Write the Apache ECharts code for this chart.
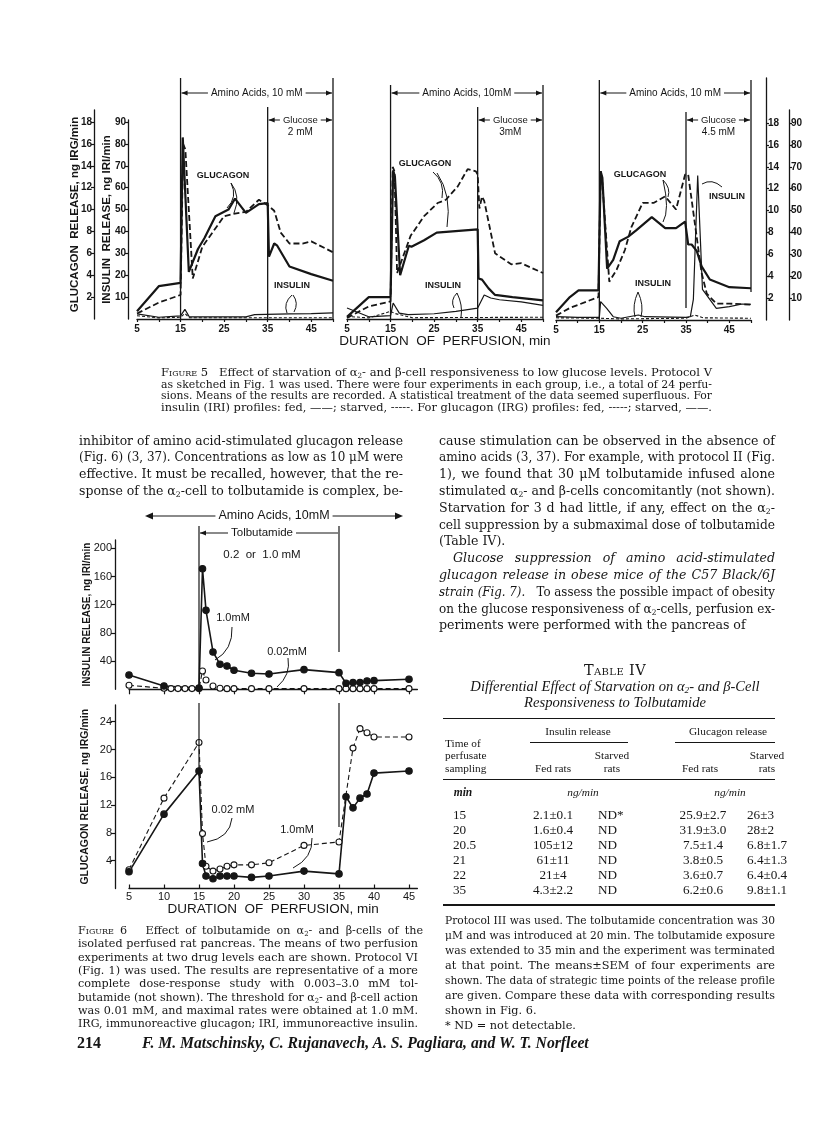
<!DOCTYPE html>
<html><head><meta charset="utf-8">
<script src="https://cdn.jsdelivr.net/npm/echarts@6/dist/echarts.min.js"></script>
<style>
html,body{margin:0;padding:0;background:#fff;}
#page{position:relative;width:816px;height:1127px;overflow:hidden;background:#fff;}
#chart{position:absolute;left:0;top:0;width:816px;height:1127px;}
.t{position:absolute;white-space:nowrap;color:#161616;font-family:'DejaVu Serif','Liberation Serif',serif;}
.t span{white-space:nowrap;}
.lib{font-family:'Liberation Serif','DejaVu Serif',serif;}
.sc{font-variant:small-caps;}
.r{position:absolute;background:#161616;}
sub{font-size:0.62em;vertical-align:-0.25em;line-height:0;}
</style></head><body><div id="page"><div id="chart"></div><div id="txt"></div></div>
<script>
// ================= DATA =================
// Figure 5 – [minute, value]; glucagon in ng IRG/min, insulin in ng IRI/min
const p1GlucFed = [[5,0.5],[10,1.5],[15,2.2],[15.6,16.0],[16.1,15.5],[17.8,3.7],[20,6.6],[25,9.4],[27,9.6],[30,9.8],[33,10.9],[35,10.4],[36.5,9.9],[38,7.9],[40,6.9],[43,6.9],[45,7.1],[50,6.1]];
const p1GlucStarved = [[5,0.7],[10,3.0],[15,3.3],[15.5,16.6],[15.9,16.6],[16.9,4.3],[19,6.4],[20.5,7.4],[23,9.4],[26,10.0],[27.5,11.0],[30,9.7],[33,10.5],[35,10.6],[35.3,5.7],[36.5,6.9],[37.2,6.7],[40,4.8],[45,4.1],[50,3.5]];
const p1InsFed = [[5,2.3],[10,0.8],[15,1.4],[16,4.4],[17,1.0],[25,1.0],[30,1.0],[32,2.0],[40,2.3],[45,2.5],[50,2.8]];
const p1InsStarved = [[5,1.5],[10,0.5],[15,0.8],[16,2.5],[17,0.6],[50,0.6]];

const p2GlucFed = [[5,0.1],[10,1.15],[15,1.6],[15.5,13.9],[15.9,13.5],[16.5,4.2],[19.6,7.6],[22.7,9.4],[25.8,10.6],[27.7,10.9],[30.4,12.1],[32.7,13.7],[34.6,13.5],[35,13.2],[35.4,10.1],[36,11.2],[36.5,10.8],[39,6.0],[42.7,5.0],[45,5.1],[50,4.2]];
const p2GlucStarved = [[5,0.2],[10,2.0],[15,2.0],[15.6,13.6],[16,13.0],[17.2,4.0],[19.2,6.7],[19.8,6.6],[22.7,7.2],[25.6,7.9],[35,8.2],[35.2,3.7],[36,3.6],[37.5,2.8],[39,2.2],[43,2.0],[50,1.7]];
const p2InsFed = [[5,5],[10,1],[15,1.5],[15.6,7.3],[17,2.7],[19,2],[25,2.4],[30,3.5],[35,5],[36.5,11],[38,9.6],[40,8.8],[45,7.8],[50,6.2]];
const p2InsStarved = [[5,1.2],[10,0.5],[15,3.5],[16,2.5],[20,0.6],[50,0.8]];

const p3GlucFed = [[5,0.4],[8.2,1.1],[14.8,2.1],[15.3,13.6],[15.7,12.5],[17.3,3.5],[19,4.6],[20.9,6.4],[22.4,8.5],[25,10.7],[27.5,10.7],[30.2,11.3],[32.7,10.1],[34.8,13.3],[35.5,13.3],[36.5,10.4],[38.6,4.3],[39.8,2.4],[42,1.5],[45,1.5],[50,1.4]];
const p3GlucStarved = [[5,0.7],[8.2,2.1],[10.2,2.7],[14.8,2.7],[15.3,13.6],[15.7,13.0],[16.8,4.7],[18.2,5.5],[19.7,7.2],[21.6,7.6],[23.5,8.2],[27.1,9.4],[30.2,8.4],[32.7,8.4],[34.8,9.0],[35.5,6.9],[36.3,6.9],[37.5,6.3],[38.6,4.9],[40.5,3.7],[45,3.0],[50,2.9]];
const p3InsFed = [[5,1.5],[10,1.2],[15,1.2],[15.3,8.4],[16.7,5.3],[18.2,1.5],[20,0.8],[24,2.3],[25.5,1.5],[35,1.2],[36,1.5],[36.7,9.4],[37.7,66],[38.8,14],[42,5.3],[45,6.1],[48,7.3],[50,7.2]];
const p3InsStarved = [[5,1.0],[15,0.8],[20,0.5],[35,0.8],[37,2.3],[39,1.0],[50,0.8]];

const fig5XLabels = [5,15,25,35,45];
const fig5GlucTicks = [2,4,6,8,10,12,14,16,18];
const fig5InsTicks = [10,20,30,40,50,60,70,80,90];

// Figure 6
const f6Times10 = [5,10,15,15.5,16,17,18,19,20,22.5,25,30,35,36,37,38,39,40,45];
const f6Ins10 = [20.3,4.7,1.9,171,112,53,35.5,33,27,22.7,21.7,27.9,23.6,8.5,9.5,9.5,11.8,12.3,14.2];
const f6TimesIns002 = [5,10,11,12,13,14,15,15.5,16,17,18,19,20,22.5,25,30,35,36,37,38,39,40,45];
const f6Ins002 = [5.7,1.4,1,1,1,1,1,26,13.2,4.7,1.4,0.9,0.9,0.9,0.9,0.9,0.9,0.9,0.9,0.9,0.9,0.9,0.9];
const f6Gluc10 = [2.4,10.7,16.9,3.6,1.8,1.4,1.8,1.8,1.8,1.6,1.8,2.5,2.1,13.2,11.6,13.0,13.6,16.6,16.9];
const f6TimesGluc002 = [5,10,15,15.5,16,17,18,19,20,22.5,25,30,35,37,38,39,40,45];
const f6Gluc002 = [2.7,13.0,21.0,7.9,3.2,2.5,2.8,3.2,3.4,3.4,3.7,6.2,6.7,20.2,23.0,22.4,21.8,21.8];
const fig6XTicks = [5,10,15,20,25,30,35,40,45];
const fig6InsTicks = [40,80,120,160,200];
const fig6GlucTicks = [4,8,12,16,20,24];

// Table IV
const tableTimes = ['15','20','20.5','21','22','35'];
const tableInsFed = ['2.1±0.1','1.6±0.4','105±12','61±11','21±4','4.3±2.2'];
const tableInsStarved = ['ND*','ND','ND','ND','ND','ND'];
const tableGlucFed = ['25.9±2.7','31.9±3.0','7.5±1.4','3.8±0.5','3.6±0.7','6.2±0.6'];
const tableGlucStarved = ['26±3','28±2','6.8±1.7','6.4±1.3','6.4±0.4','9.8±1.1'];

// ================= CHART =================
const INK = '#161616';
const SANS = "'Liberation Sans','DejaVu Sans',Arial,sans-serif";
const chart = echarts.init(document.getElementById('chart'), null, {renderer:'canvas', width:816, height:1127});

const gridBoxes = [
  {left:137, top:110, width:196, height:209},
  {left:137, top:120, width:196, height:199},
  {left:347, top:110, width:196, height:209},
  {left:347, top:120, width:196, height:199},
  {left:556, top:78,  width:195, height:242},
  {left:556, top:110, width:195, height:210},
  {left:129, top:540, width:288.4, height:149.3},
  {left:129, top:705, width:288.4, height:183.5}
];
const grid = gridBoxes.map(g => Object.assign({outerBoundsMode:'none', containLabel:false, show:false}, g));
const GLUC_PX = 10.94, INS_PX = 2.189; // px per unit in figure 5

const axLine = {show:true, onZero:false, lineStyle:{color:INK, width:1.3}};
function hiddenX(gi){ return {type:'value', gridIndex:gi, min:5, max:50, show:false}; }
function fig5X(gi){
  return {type:'value', gridIndex:gi, min:5, max:50, interval:5, axisLine:axLine,
    axisTick:{show:true, length:3, lineStyle:{color:INK, width:1.2}},
    axisLabel:{show:true, customValues:fig5XLabels, fontSize:10, fontWeight:'bold', color:INK, margin:5, fontFamily:SANS},
    splitLine:{show:false}};
}
function fig5Y(gi, max, ticks, pos, offset, name, gap, show){
  const o = {type:'value', gridIndex:gi, min:0, max:max, position:pos, offset:offset, show:show,
    axisLine:axLine, axisTick:{show:true, customValues:ticks, length:3, lineStyle:{color:INK, width:1.2}},
    axisLabel:{show:true, customValues:ticks, fontSize:10, fontWeight:'bold', color:INK, margin:2, fontFamily:SANS},
    splitLine:{show:false}, nameMoveOverlap:false};
  if (name){ Object.assign(o, {name:name, nameLocation:'middle', nameGap:gap,
    nameTextStyle:{fontSize:11.5, fontWeight:'bold', color:INK, fontFamily:SANS}}); }
  return o;
}
const xAxis = [
  hiddenX(0), fig5X(1), hiddenX(2), fig5X(3), hiddenX(4), fig5X(5),
  {type:'value', gridIndex:6, min:5, max:46.2, axisLine:axLine,
    axisTick:{show:true, customValues:fig6XTicks, length:5, lineStyle:{color:INK, width:1.2}},
    axisLabel:{show:false}, splitLine:{show:false}},
  {type:'value', gridIndex:7, min:5, max:46.2, axisLine:axLine,
    axisTick:{show:true, inside:true, customValues:fig6XTicks, length:4, lineStyle:{color:INK, width:1.2}},
    axisLabel:{show:true, customValues:fig6XTicks, fontSize:11, color:INK, margin:3, fontFamily:SANS},
    splitLine:{show:false}, name:'DURATION  OF  PERFUSION, min', nameLocation:'middle', nameGap:14, nameMoveOverlap:false,
    nameTextStyle:{fontSize:13.5, color:INK, fontFamily:SANS}}
];
const yAxis = [
  fig5Y(0, 209/GLUC_PX, fig5GlucTicks, 'left', 43, 'GLUCAGON  RELEASE, ng IRG/min', 13, true),
  fig5Y(1, 199/INS_PX, fig5InsTicks, 'left', 9, 'INSULIN  RELEASE, ng IRI/min', 15, true),
  fig5Y(2, 209/GLUC_PX, fig5GlucTicks, 'left', 0, null, 0, false),
  fig5Y(3, 199/INS_PX, fig5InsTicks, 'left', 0, null, 0, false),
  fig5Y(4, 242/GLUC_PX, fig5GlucTicks, 'right', 15, null, 0, true),
  fig5Y(5, 210/INS_PX, fig5InsTicks, 'right', 38, null, 0, true),
  {type:'value', gridIndex:6, min:0, max:211.8, offset:14, axisLine:axLine,
    axisTick:{show:true, customValues:fig6InsTicks, length:4, lineStyle:{color:INK, width:1.2}},
    axisLabel:{show:true, customValues:fig6InsTicks, fontSize:11, color:INK, margin:3, fontFamily:SANS},
    splitLine:{show:false}, name:'INSULIN RELEASE, ng IRI/min', nameLocation:'middle', nameGap:23, nameMoveOverlap:false,
    nameTextStyle:{fontSize:10, fontWeight:'bold', color:INK, fontFamily:SANS}},
  {type:'value', gridIndex:7, min:0, max:26.4, offset:14, axisLine:axLine,
    axisTick:{show:true, customValues:fig6GlucTicks, length:4, lineStyle:{color:INK, width:1.2}},
    axisLabel:{show:true, customValues:fig6GlucTicks, fontSize:11, color:INK, margin:3, fontFamily:SANS},
    splitLine:{show:false}, name:'GLUCAGON RELEASE, ng IRG/min', nameLocation:'middle', nameGap:24, nameMoveOverlap:false,
    nameTextStyle:{fontSize:10.5, fontWeight:'bold', color:INK, fontFamily:SANS}}
];

function l5(data, ax, width, dash){
  return {type:'line', xAxisIndex:ax, yAxisIndex:ax, data:data, symbol:'none', showSymbol:false, silent:true,
    lineStyle:{color:INK, width:width, type:dash ? dash : 'solid'}, z:3};
}
function pairs(t, v){ return t.map((x,i)=>[x, v[i]]); }
function l6(t, v, ax, filled){
  return {type:'line', xAxisIndex:ax, yAxisIndex:ax, data:pairs(t,v), symbol:'circle', symbolSize:filled?6.5:6, silent:true,
    itemStyle:{color: filled?INK:'#fff', borderColor:INK, borderWidth:1.1},
    lineStyle:{color:INK, width: filled?1.6:1.1, type: filled?'solid':[5,3]}, z:4};
}
const series = [
  l5(p1GlucFed,0,1.8,[6,3]), l5(p1GlucStarved,0,2.2), l5(p1InsFed,1,1.2), l5(p1InsStarved,1,1.1,[3,2]),
  l5(p2GlucFed,2,1.8,[6,3]), l5(p2GlucStarved,2,2.2), l5(p2InsFed,3,1.2), l5(p2InsStarved,3,1.1,[3,2]),
  l5(p3GlucFed,4,1.8,[6,3]), l5(p3GlucStarved,4,2.2), l5(p3InsFed,5,1.2), l5(p3InsStarved,5,1.1,[3,2]),
  l6(f6TimesIns002, f6Ins002, 6, false), l6(f6Times10, f6Ins10, 6, true),
  l6(f6TimesGluc002, f6Gluc002, 7, false), l6(f6Times10, f6Gluc10, 7, true)
];
chart.setOption({animation:false, backgroundColor:'transparent', grid:grid, xAxis:xAxis, yAxis:yAxis, series:series});

// ---------- annotations (positions from the axes) ----------
const P = (ax, x, y) => chart.convertToPixel({xAxisIndex:ax, yAxisIndex:ax}, [x, y]);
const G = [];
function gl(x1,y1,x2,y2,w,dash){ G.push({type:'line', silent:true, z:10, shape:{x1,y1,x2,y2}, style:{stroke:INK, lineWidth:w||1.2, lineDash:dash||null}}); }
function gt(x,y,text,font,bg){ G.push({type:'text', silent:true, z:12, x:x, y:y, style:{text:text, font:font, fill:INK,
  align:'center', verticalAlign:'middle', textAlign:'center', textVerticalAlign:'middle',
  backgroundColor: bg ? '#fff' : null, padding: bg ? [0,3] : 0}}); }
function tri(x,y,dir,len,half){ G.push({type:'polygon', silent:true, z:11, shape:{points:[[x,y],[x-dir*len,y-half],[x-dir*len,y+half]]}, style:{fill:INK}}); }
function qc(x1,y1,cx,cy,x2,y2){ G.push({type:'bezierCurve', silent:true, z:10, shape:{x1,y1,x2,y2,cpx1:cx,cpy1:cy}, style:{stroke:INK, fill:null, lineWidth:1}}); }

const fig5Panels = [
  {ax:1, lineTop:78, glucTop:107, glucBottom:null, rightBottom:null, amino:'Amino Acids, 10 mM', conc:'2 mM'},
  {ax:3, lineTop:85, glucTop:107, glucBottom:null, rightBottom:null, amino:'Amino Acids, 10mM', conc:'3mM'},
  {ax:5, lineTop:80, glucTop:112, glucBottom:308, rightBottom:292, amino:'Amino Acids, 10 mM', conc:'4.5 mM'}
];
const F5 = "10px " + SANS;
fig5Panels.forEach(p => {
  const x15 = P(p.ax,15,0)[0], x35 = P(p.ax,35,0)[0], x50 = P(p.ax,50,0)[0], base = P(p.ax,15,0)[1];
  gl(x15, p.lineTop, x15, base, 1.3);
  gl(x50, p.lineTop, x50, p.rightBottom || base, 1.3);
  gl(x35, p.glucTop, x35, p.glucBottom || base, 1.3);
  gl(x15+1, 93, x50-1, 93, 1.1); tri(x15+1, 93, -1, 6, 2.5); tri(x50-1, 93, 1, 6, 2.5);
  gt((x15+x50)/2, 93, p.amino, F5, true);
  gl(x35+1, 120, x50-1, 120, 1.1); tri(x35+1,120,-1,6,2.5); tri(x50-1,120,1,6,2.5);
  gt((x35+x50)/2, 120, 'Glucose', "9.5px " + SANS, true);
  gt((x35+x50)/2, 132, p.conc, "10px " + SANS, false);
});
const fig5Tags = [['GLUCAGON',223,176],['INSULIN',292,286],['GLUCAGON',425,164],['INSULIN',443,286],['GLUCAGON',640,175],['INSULIN',653,284],['INSULIN',727,197]];
fig5Tags.forEach(t => gt(t[1], t[2], t[0], "bold 9px " + SANS, false));
[[231,183,238,197,227,208],[231,183,241,196,234,213],
 [292,295,283,303,287,313],[293,295,299,303,294,312],
 [433,172,445,182,442,198],[437,173,452,195,447,227],
 [457,293,450,300,454,308],[457,293,463,305,461,317],
 [663,180,671,188,668,197],[663,180,670,210,663,222],
 [638,292,632,305,635,317],[638,292,644,305,641,317],
 [722,187,712,178,702,184]].forEach(c => qc(...c));
gt(445, 341, 'DURATION  OF  PERFUSION, min', "13.5px " + SANS, false);

// Figure 6 annotations
const f15 = P(6,15,0)[0], f35 = P(6,35,0)[0], baseA = P(6,15,0)[1];
gl(f15, 526, f15, baseA, 1.2); gl(f35, 526, f35, 652, 1.2);
gl(f15, 703, f15, 776, 1.2); gl(f35, 703, f35, 827, 1.2);
gl(150, 516, 398, 516, 1.1); tri(145,516,-1,8,3.5); tri(403,516,1,8,3.5);
gt(274, 516, 'Amino Acids, 10mM', "12.5px " + SANS, true);
gl(f15+1, 533, f35-1, 533, 1.1); tri(f15+1,533,-1,6,2.5);
gt(262, 533, 'Tolbutamide', "11.5px " + SANS, true);
gt(262, 555, '0.2  or  1.0 mM', "11.5px " + SANS, false);
[['1.0mM',233,618],['0.02mM',287,652],['0.02 mM',233,810],['1.0mM',297,830]].forEach(t => gt(t[1],t[2],t[0],"11px " + SANS,false));
[[232,627,233,650,215,660],[288,658,291,675,277,687],[232,818,230,838,207,842],[312,838,313,858,293,868]].forEach(c => qc(...c));
chart.setOption({graphic:{elements:G}});

// ================= TEXT =================
const txt = document.getElementById('txt');
const A2 = 'α<sub>2</sub>';
function addLines(lines, x, y0, lh, w, css){
  lines.forEach((L, i) => {
    const d = document.createElement('div'); d.className = 't';
    const ind = L.ind || 0;
    d.style.cssText = `left:${x+ind}px;top:${y0 + i*lh - lh/2}px;height:${lh}px;line-height:${lh}px;${css}`;
    d.innerHTML = `<span>${L.h}</span>`;
    d.dataset.w = (w - ind); d.dataset.j = L.last ? '0' : '1';
    txt.appendChild(d);
  });
}
function place(html, x, y, align, css, cls){
  const d = document.createElement('div'); d.className = 't' + (cls ? ' ' + cls : '');
  const tx = align === 'center' ? '-50%' : (align === 'right' ? '-100%' : '0');
  d.style.cssText = `left:${x}px;top:${y}px;transform:translate(${tx},-50%);${css||''}`;
  d.innerHTML = html; txt.appendChild(d); return d;
}
function rule(x, y, w, h){ const d = document.createElement('div'); d.className='r'; d.style.cssText=`left:${x}px;top:${y}px;width:${w}px;height:${h}px;`; txt.appendChild(d); }

addLines([
  {h:`<span class="sc">Figure 5</span>&nbsp;&nbsp; Effect of starvation of ${A2}- and β-cell responsiveness to low glucose levels. Protocol V`},
  {h:'as sketched in Fig. 1 was used. There were four experiments in each group, i.e., a total of 24 perfu-'},
  {h:'sions. Means of the results are recorded. A statistical treatment of the data seemed superfluous. For'},
  {h:'insulin (IRI) profiles: fed, ——; starved, -----. For glucagon (IRG) profiles: fed, -----; starved, ——.', last:true}
], 161, 373, 11.6, 551, 'font-size:11.55px;');

addLines([
  {h:'inhibitor of amino acid-stimulated glucagon release'},
  {h:'(Fig. 6) (3, 37). Concentrations as low as 10 μM were'},
  {h:'effective. It must be recalled, however, that the re-'},
  {h:`sponse of the ${A2}-cell to tolbutamide is complex, be-`}
], 79, 441, 16.6, 324, 'font-size:12.6px;');

addLines([
  {h:'cause stimulation can be observed in the absence of'},
  {h:'amino acids (3, 37). For example, with protocol II (Fig.'},
  {h:'1), we found that 30 μM tolbutamide infused alone'},
  {h:`stimulated ${A2}- and β-cells concomitantly (not shown).`},
  {h:`Starvation for 3 d had little, if any, effect on the ${A2}-`},
  {h:'cell suppression by a submaximal dose of tolbutamide'},
  {h:'(Table IV).', last:true},
  {h:'<i>Glucose suppression of amino acid-stimulated</i>', ind:14},
  {h:'<i>glucagon release in obese mice of the C57 Black/6J</i>'},
  {h:'<i>strain (Fig. 7).</i>&nbsp;&nbsp; To assess the possible impact of obesity'},
  {h:`on the glucose responsiveness of ${A2}-cells, perfusion ex-`},
  {h:'periments were performed with the pancreas of', last:true}
], 439, 441, 16.8, 336, 'font-size:12.6px;');

addLines([
  {h:`<span class="sc">Figure 6</span>&nbsp;&nbsp; Effect of tolbutamide on ${A2}- and β-cells of the`},
  {h:'isolated perfused rat pancreas. The means of two perfusion'},
  {h:'experiments at two drug levels each are shown. Protocol VI'},
  {h:'(Fig. 1) was used. The results are representative of a more'},
  {h:'complete dose-response study with 0.003–3.0 mM tol-'},
  {h:`butamide (not shown). The threshold for ${A2}- and β-cell action`},
  {h:'was 0.01 mM, and maximal rates were obtained at 1.0 mM.'},
  {h:'IRG, immunoreactive glucagon; IRI, immunoreactive insulin.', last:true}
], 78, 930.7, 13.33, 340, 'font-size:11.2px;');

// Table IV
place('<span class="sc">Table IV</span>', 615, 670, 'center', 'font-size:14.5px;letter-spacing:0.4px;');
place(`<i>Differential Effect of Starvation on ${A2}- and β-Cell</i>`, 615, 686, 'center', 'font-size:14.6px;', 'lib');
place('<i>Responsiveness to Tolbutamide</i>', 615, 702, 'center', 'font-size:14.6px;', 'lib');
rule(443, 717.5, 332, 1.6);
const HC = 'font-size:11.3px;';
place('Insulin release', 578, 731, 'center', HC, 'lib');
place('Glucagon release', 728, 731, 'center', HC, 'lib');
rule(530, 742, 98, 1.1); rule(675, 742, 100, 1.1);
place('Time of', 445, 743, 'left', HC, 'lib');
place('perfusate', 445, 755, 'left', HC, 'lib');
place('sampling', 445, 767.5, 'left', HC, 'lib');
place('Fed rats', 553, 767.5, 'center', HC, 'lib');
place('Starved', 612, 755, 'center', HC, 'lib');
place('rats', 612, 767.5, 'center', HC, 'lib');
place('Fed rats', 700, 767.5, 'center', HC, 'lib');
place('Starved', 767, 755, 'center', HC, 'lib');
place('rats', 767, 767.5, 'center', HC, 'lib');
rule(443, 779, 332, 1.1);
place('<i><b>min</b></i>', 463, 792, 'center', 'font-size:11.5px;', 'lib');
place('<i>ng/min</i>', 583, 792, 'center', HC, 'lib');
place('<i>ng/min</i>', 730, 792, 'center', HC, 'lib');
const rowY = [815, 830, 845, 860, 874.5, 890];
tableTimes.forEach((t,i) => {
  const y = rowY[i], css = 'font-size:13.2px;';
  place(t, 453, y, 'left', css, 'lib');
  place(tableInsFed[i], 553, y, 'center', css, 'lib');
  place(tableInsStarved[i], 598, y, 'left', css, 'lib');
  place(tableGlucFed[i], 703, y, 'center', css, 'lib');
  place(tableGlucStarved[i], 747, y, 'left', css, 'lib');
});
rule(443, 904, 332, 1.6);
addLines([
  {h:'Protocol III was used. The tolbutamide concentration was 30'},
  {h:'μM and was introduced at 20 min. The tolbutamide exposure'},
  {h:'was extended to 35 min and the experiment was terminated'},
  {h:'at that point. The means±SEM of four experiments are'},
  {h:'shown. The data of strategic time points of the release profile'},
  {h:'are given. Compare these data with corresponding results'},
  {h:'shown in Fig. 6.', last:true},
  {h:'* ND = not detectable.', last:true}
], 445, 920, 15, 330, 'font-size:11.3px;');

place('214', 77, 1043, 'left', 'font-size:16px;font-weight:bold;', 'lib');
place('<i>F. M. Matschinsky, C. Rujanavech, A. S. Pagliara, and W. T. Norfleet</i>', 142, 1043, 'left', 'font-size:15.7px;font-weight:bold;', 'lib');

function fit(){
  document.querySelectorAll('#txt .t[data-w]').forEach(d => {
    const s = d.firstChild; s.style.wordSpacing = ''; s.style.transform = ''; s.style.display = 'inline-block';
    const w = parseFloat(d.dataset.w), nat = s.getBoundingClientRect().width;
    const n = (s.textContent.match(/ /g) || []).length;
    if (nat > w) { s.style.transformOrigin = 'left center'; s.style.transform = `scaleX(${w/nat})`; }
    else if (d.dataset.j === '1' && n > 0) { s.style.wordSpacing = ((w - nat)/n) + 'px'; }
  });
}
fit();
if (document.fonts && document.fonts.ready) document.fonts.ready.then(fit);
</script></body></html>
